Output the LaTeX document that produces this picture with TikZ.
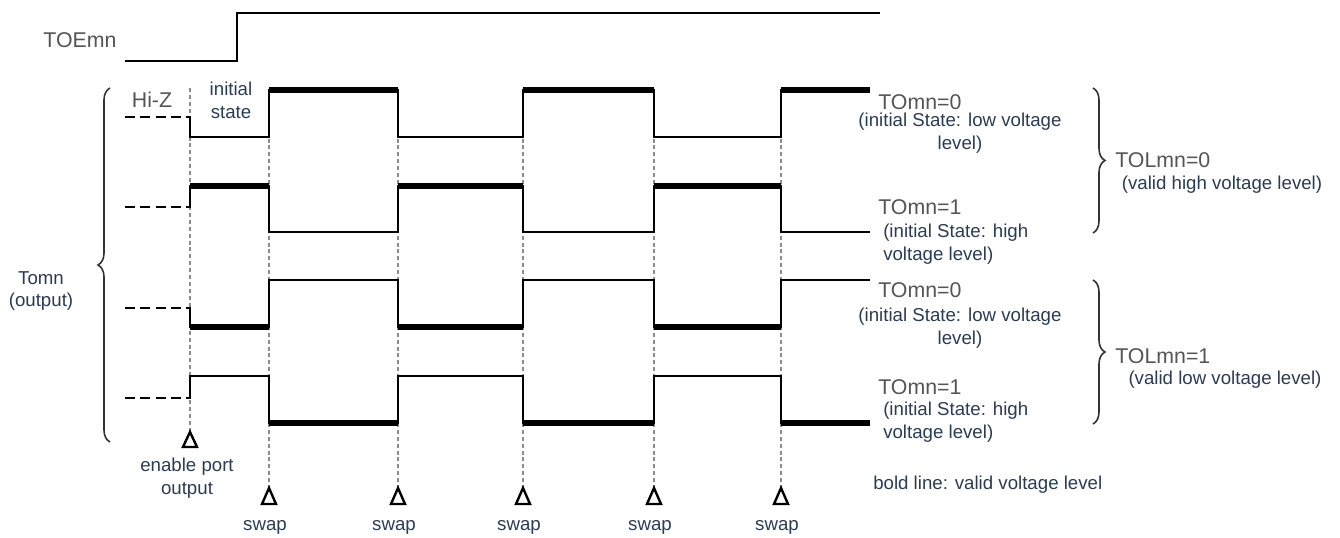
\documentclass[tikz,border=0pt]{standalone}
\usepackage{fontspec}
\setmainfont{Liberation Sans}
\usepackage{tikz}
\usetikzlibrary{decorations.pathreplacing, calc}
\definecolor{labelgray}{HTML}{555555}
\definecolor{textnavy}{HTML}{2B3B52}
\definecolor{guidegray}{HTML}{8C8C8C}
\tikzset{
  wave/.style={line width=1.7pt, line join=miter},
  validline/.style={line width=4.2pt},
  hiz/.style={line width=1.9pt, dash pattern=on 7.5pt off 4pt},
  guide/.style={guidegray, line width=0.8pt, dash pattern=on 3pt off 2.2pt},
  marker/.style={line width=1.8pt, fill=white, line join=miter},
  graylabel/.style={text=labelgray, font=\fontsize{16}{19}\selectfont, inner sep=0pt},
  navytext/.style={text=textnavy, font=\fontsize{14}{17}\selectfont, inner sep=0pt},
  groupbrace/.style={decorate, decoration={brace, amplitude=9pt}, line width=1.2pt, draw=black!80},
}
% one TOmn output row: Hi-Z level, level after enable, other level, valid level, valid spans
\newcommand{\tomnwave}[5]{%
  \draw[hiz] (125,#1) -- (186,#1);
  \draw[wave] (186,#1) -- (190,#1) -- (190,#2) -- (269,#2) -- (269,#3) -- (398,#3) -- (398,#2)
    -- (523,#2) -- (523,#3) -- (654,#3) -- (654,#2) -- (781,#2) -- (781,#3) -- (870,#3);
  \foreach \xa/\xb in {#5} {
    \draw[validline] (\xa,#4) -- (\xb,#4);
  }%
}

\begin{document}
\begin{tikzpicture}[x=0.75pt, y=-0.75pt]
  \useasboundingbox (0,0) rectangle (1340,538);

  % TOEmn
  \node[graylabel] (toemn) at (80,40) {TOEmn};
  \draw[wave] (125,61) -- (237,61) -- (237,13) -- (880,13);

  % enable and swap guides
  \draw[guide] (190,88) -- (190,432);
  \draw[marker] (190,432) -- (183,447) -- (197,447) -- cycle;
  \node[navytext, align=center] (enable) at (187,478) {enable port\\output};
  \foreach \x [count=\i] in {269,398,523,654,781} {
    \draw[guide] (\x,90) -- (\x,488);
    \draw[marker] (\x,488) -- (\x-7,504) -- (\x+7,504) -- cycle;
    \node[navytext] (swap\i) at (\x-4,527) {swap};
  }

  % output rows
  \tomnwave{117}{137}{90}{90}{269/398, 523/654, 781/870}
  \tomnwave{207}{186}{232}{186}{190/269, 398/523, 654/781}
  \tomnwave{308}{327}{280}{327}{190/269, 398/523, 654/781}
  \tomnwave{398}{376}{423}{423}{269/398, 523/654, 781/870}

  \node[graylabel] (hiz) at (152,100) {Hi-Z};
  \node[navytext, align=center] (initstate) at (231,100) {initial\\state};

  % left brace
  \draw[groupbrace] (110,442) -- (110,88);
  \node[navytext, align=center] (tomn) at (41,291) {Tomn\\(output)};

  % right labels
  \node[graylabel, anchor=west] (tomn0a) at (878,102) {TOmn=0};
  \node[navytext, align=center] (lowa) at (960,133) {(initial State: low voltage\\level)};
  \node[graylabel, anchor=west] (tomn1a) at (878,207) {TOmn=1};
  \node[navytext, align=left, anchor=west] (higha) at (883,244) {(initial State: high\\voltage level)};
  \node[graylabel, anchor=west] (tomn0b) at (878,290) {TOmn=0};
  \node[navytext, align=center] (lowb) at (960,328) {(initial State: low voltage\\level)};
  \node[graylabel, anchor=west] (tomn1b) at (878,387) {TOmn=1};
  \node[navytext, align=left, anchor=west] (highb) at (883,422) {(initial State: high\\voltage level)};

  % right braces
  \draw[groupbrace] (1093,88) -- (1093,233);
  \node[graylabel, anchor=west] (tolmn0) at (1115,160) {TOLmn=0};
  \node[navytext] (validhigh) at (1222,185) {(valid high voltage level)};
  \draw[groupbrace] (1093,280) -- (1093,424);
  \node[graylabel, anchor=west] (tolmn1) at (1115,356) {TOLmn=1};
  \node[navytext] (validlow) at (1225,380) {(valid low voltage level)};

  \node[navytext, anchor=west] (boldnote) at (873,485) {bold line: valid voltage level};
\end{tikzpicture}
\end{document}
